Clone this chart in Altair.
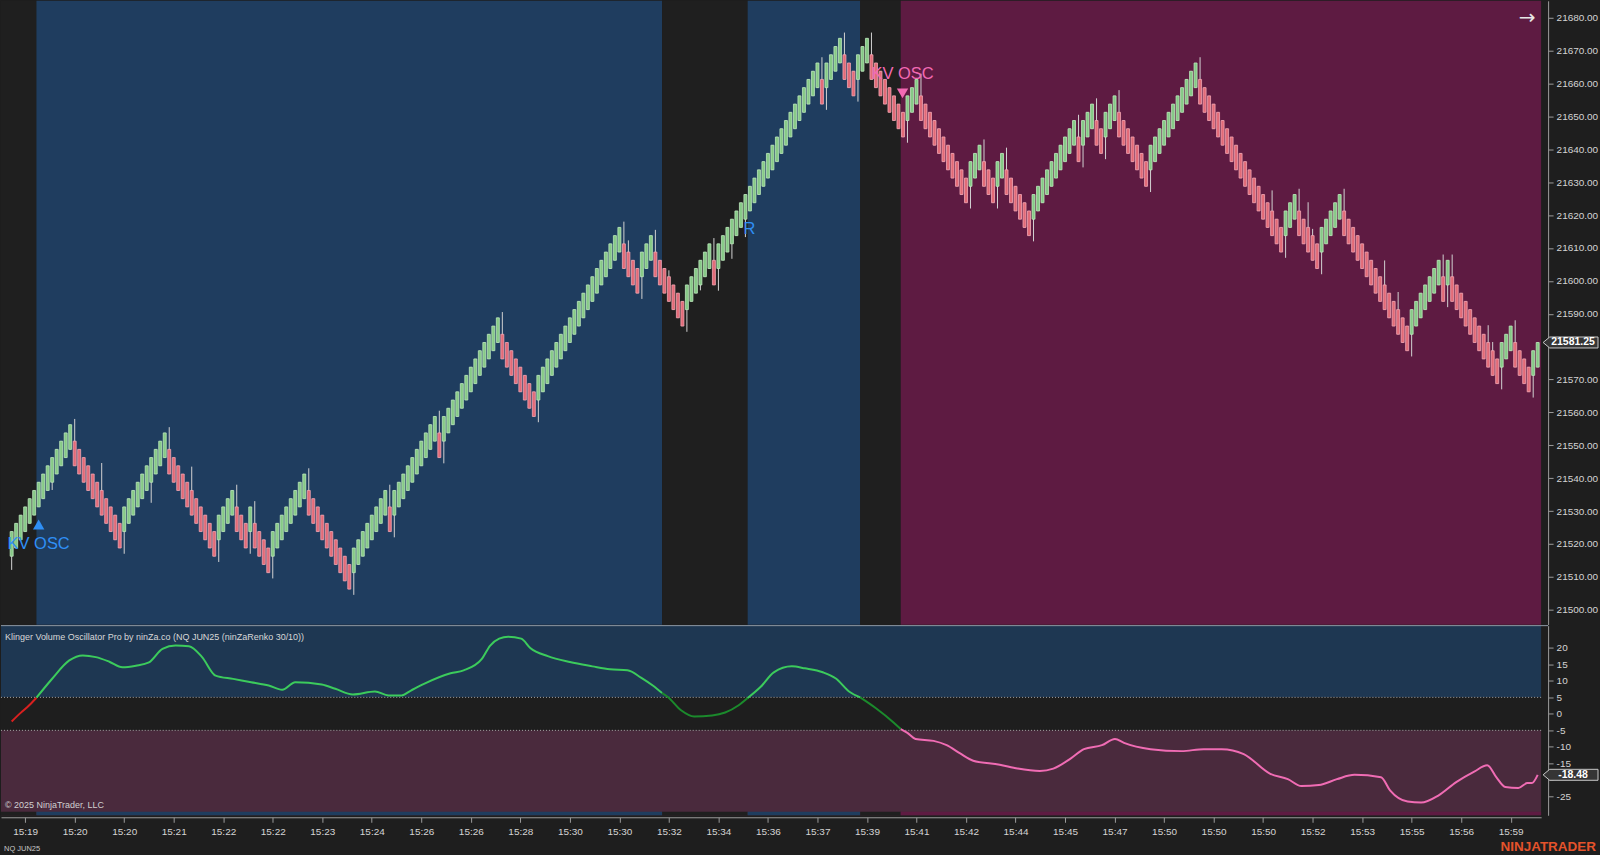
import json
import altair as alt
import pandas as pd

# ---------------- data ----------------
# Renko (ninZaRenko 30/10) settings of NQ: brick 7.5 pts, trend step 2.5 pts, reversal jump 12.5 pts
start_close = 21521.25
renko_brick = 7.5
renko_trend = 2.5
renko_reversal = 12.5
# number of bricks in each swing, first swing up, then alternating
leg_bars = [14, 11, 10, 11, 4, 3, 1, 4, 8, 10, 8, 1, 10, 1, 13, 8, 19, 4, 3, 7, 6, 1, 23, 1,
            4, 3, 3, 8, 3, 11, 3, 3, 2, 6, 10, 1, 3, 2, 3, 7, 11, 19, 3, 5, 5, 15, 7, 1, 1, 11,
            3, 4, 2]
# extra wick extremes seen on individual bricks (bar index, price)
wick_idx = [0, 9, 20, 31, 40, 137, 146, 153, 160, 163, 280, 282, 288, 289, 305, 308, 328, 329]
wick_px = [21512.1, 21536.4, 21544.6, 21532.5, 21543.5, 21612.3, 21603.2, 21597.1, 21606.7,
           21613.3, 21627.5, 21616.0, 21623.9, 21615.8, 21606.2, 21596.6, 21586.5, 21581.4]

# oscillator (bar index, value)
osc_idx = [0, 2, 3.9, 5.5, 8.9, 12.8, 15.8, 18.7, 21.7, 24.6, 27.6, 30.5, 33.5, 36.4, 39.4,
           42.3, 45.3, 49.2, 53.2, 57.1, 60.1, 63.0, 68.9, 71.9, 75.8, 80.7, 83.7, 86.6, 88.6,
           91.6, 97.5, 100.4, 104.4, 106.3, 108.3, 110.3, 113.2, 115.2, 119.1, 124.0, 129.0,
           132.9, 136.8, 139.8, 142.5, 144.5, 145.7, 148.7, 151.6, 155.6, 158.5, 161.5, 163.5,
           166.4, 169.3, 173.3, 176.2, 180.2, 183.1, 186.1, 188.5, 192.0, 195.9, 197.5, 198.9,
           200.8, 204.8, 207.7, 210.7, 213.6, 219.5, 223.5, 228.4, 231.4, 235.3, 238.2, 242.2,
           245.1, 247.1, 253.0, 259.9, 264.8, 268.8, 273.7, 279.6, 283.5, 286.5, 290.4, 294.4,
           298.3, 304.2, 306.2, 310.1, 313.1, 317.0, 320.9, 324.9, 327.8, 329.8, 331.8, 334.7,
           336.7, 337.7, 339.0]
osc_val = [-2.3, 0.3, 2.6, 4.9, 10.5, 16.2, 17.7, 17.2, 15.8, 14.1, 14.6, 15.6, 19.7, 20.7,
           20.5, 17.2, 11.6, 10.6, 9.6, 8.6, 7.3, 9.6, 8.9, 7.6, 5.9, 6.8, 5.6, 5.6, 7.0, 9.1,
           12.3, 13.2, 16.6, 20.7, 22.8, 23.4, 22.8, 20.0, 17.5, 15.7, 14.4, 13.5, 13.2, 11.0,
           8.5, 6.3, 5.2, 1.1, -0.8, -0.5, 0.4, 2.6, 4.8, 8.2, 12.6, 14.4, 13.8, 12.6, 10.7, 6.7,
           5.0, 1.7, -2.6, -4.6, -5.7, -7.6, -8.2, -9.5, -12.0, -14.2, -15.4, -16.6, -17.3,
           -16.6, -13.5, -10.7, -9.5, -7.6, -8.8, -10.7, -11.3, -10.7, -10.7, -12.2, -18.2,
           -19.8, -21.9, -21.6, -19.8, -18.5, -19.2, -23.2, -26.6, -26.9, -24.7, -20.7, -17.5,
           -15.6, -19.2, -22.2, -22.5, -21.0, -21.0, -18.5]
osc_breaks = [5.5, 144.5, 163.5, 188.5, 197.5]
osc_seg_state = ["bear_flat", "bull", "bull_flat", "bull", "bull_flat", "bear"]
osc_upper, osc_lower = 5, -5

# background regions (bar-index edges) and their state
region_edges = [-2.37, 5.5, 144.5, 163.5, 188.5, 197.5, 339.76]
region_state = ["flat", "bull", "flat", "bull", "flat", "bear"]

# time axis (a label every 11 bricks)
tick_pos = [3, 14, 25, 36, 47, 58, 69, 80, 91, 102, 113, 124, 135, 146, 157, 168, 179, 190,
            201, 212, 223, 234, 245, 256, 267, 278, 289, 300, 311, 322, 333]
tick_lab = ["15:19", "15:20", "15:20", "15:21", "15:22", "15:22", "15:23", "15:24", "15:26",
            "15:26", "15:28", "15:30", "15:30", "15:32", "15:34", "15:36", "15:37", "15:39",
            "15:41", "15:42", "15:44", "15:45", "15:47", "15:50", "15:50", "15:50", "15:52",
            "15:53", "15:55", "15:56", "15:59"]
price_ticks = list(range(21500, 21681, 10))
osc_ticks = [20, 15, 10, 5, 0, -5, -10, -15, -20, -25]
last_price = 21581.25
last_osc = -18.48

# signals
signal_idx = [6.0, 197.9]
signal_price = [21525.9, 21657.0]
signal_dir = ["up", "down"]
label_idx = [6.0, 197.9, 163.9]
label_price = [21520.0, 21662.8, 21615.8]
label_text = ["KV OSC", "KV OSC", "R"]
label_dir = ["up", "down", "up"]

# ---------------- build tables ----------------
extra = dict(zip(wick_idx, wick_px))
rows = []
c = start_close
i = 0
for li, n in enumerate(leg_bars):
    d = 1 if li % 2 == 0 else -1
    for k in range(n):
        rev = li > 0 and k == 0
        prev = c
        c = prev + d * (renko_reversal if rev else renko_trend)
        o = c - d * renko_brick
        lo, hi = min(o, c), max(o, c)
        wlo, whi = lo, hi
        if rev:
            if d > 0:
                wlo = prev - 1.75
            else:
                whi = prev + 1.75
        if i in extra:
            p = extra[i]
            if p > hi:
                whi = max(whi, p)
            elif p < lo:
                wlo = min(wlo, p)
        rows.append(dict(idx=i, lo=lo, hi=hi, wlo=wlo, whi=whi,
                         fill="#86c986" if d > 0 else "#e26a77",
                         stroke="#bde8bd" if d > 0 else "#f3a6b2"))
        i += 1
bars_df = pd.DataFrame(rows)

BULL, BEAR, FLAT = "#1f3d5f", "#5e1b42", "#1f1f1f"
state_fill = {"flat": FLAT, "bull": BULL, "bear": BEAR}
reg_df = pd.DataFrame({"x0": region_edges[:-1], "x1": region_edges[1:],
                       "fill": [state_fill[s] for s in region_state]})

line_col = {"bear_flat": "#d9201f", "bull": "#3ccb5c", "bull_flat": "#1b8a2c", "bear": "#f06cb4"}
lrows = []
bounds = [osc_idx[0]] + osc_breaks + [osc_idx[-1]]
for s, st in enumerate(osc_seg_state):
    a, b = bounds[s], bounds[s + 1]
    for xi, v in zip(osc_idx, osc_val):
        if a <= xi <= b:
            lrows.append(dict(idx=xi, v=v, seg=s, col=line_col[st]))
line_df = pd.DataFrame(lrows)

band_df = pd.DataFrame({"b0": [osc_upper, osc_lower, -30.75], "b1": [26.75, osc_upper, osc_lower],
                        "fill": ["#1e3752", "#1e1e1e", "#4a2a3d"]})
thr_df = pd.DataFrame({"v": [osc_upper, osc_lower]})

BLUE, PINK = "#2f8ff5", "#f26ab3"
sig_df = pd.DataFrame({"idx": signal_idx, "p": signal_price,
                       "shape": ["triangle-up" if d == "up" else "triangle-down" for d in signal_dir],
                       "col": [BLUE if d == "up" else PINK for d in signal_dir]})
lab_df = pd.DataFrame({"idx": label_idx, "p": label_price, "t": label_text,
                       "col": [BLUE if d == "up" else PINK for d in label_dir]})

# axis labels hidden under the last-value tags (as in the platform)
price_hidden = [t for t in price_ticks if abs(t - last_price) < 4]
osc_hidden = [t for t in osc_ticks if abs(t - last_osc) < 2.5]

# ---------------- chart ----------------
W, H1, H2 = 1543, 625, 190
FONT = "Liberation Sans"
xs = alt.Scale(domain=[region_edges[0], region_edges[-1]], nice=False, zero=False, padding=0)
ys = alt.Scale(domain=[21495.45, 21685.16], nice=False, zero=False, padding=0)
os_ = alt.Scale(domain=[-30.75, 26.75], nice=False, zero=False, padding=0)

AX = dict(domainColor="#9c9c9c", tickColor="#9c9c9c", labelColor="#d4d4d4", labelFont=FONT,
          labelFontSize=10, tickSize=5, grid=False, title=None)
price_axis = alt.Axis(
    orient="right", values=price_ticks, offset=7, labelPadding=3,
    labelExpr=f"indexof({json.dumps(price_hidden)}, datum.value) >= 0 ? '' : format(datum.value, '.2f')",
    **AX)
osc_axis = alt.Axis(
    orient="right", values=osc_ticks, offset=7, labelPadding=3,
    labelExpr=f"indexof({json.dumps(osc_hidden)}, datum.value) >= 0 ? '' : '' + datum.value",
    **AX)
x_label_expr = f"{json.dumps(tick_lab)}[indexof({json.dumps(tick_pos)}, datum.value)]"
x_axis = alt.Axis(values=tick_pos, labelExpr=x_label_expr, offset=2, labelPadding=4,
                  labelFlush=False, labelOverlap=False, **AX)


def xnone(f):
    return alt.X(f, type="quantitative", scale=xs, axis=None)


def yp(f):
    return alt.Y(f, type="quantitative", scale=ys, axis=price_axis)


def yo(f):
    return alt.Y(f, type="quantitative", scale=os_, axis=osc_axis)


regions = alt.Chart(reg_df).mark_rect().encode(
    x=xnone("x0"), x2="x1:Q", y=alt.value(0), y2=alt.value(H1),
    color=alt.Color("fill:N", scale=None))
wicks = alt.Chart(bars_df).mark_rule(color="#d2d2d2", strokeWidth=1).encode(
    x=xnone("idx"), y=yp("wlo"), y2="whi:Q")
bodies = alt.Chart(bars_df).mark_bar(width=3, strokeWidth=0.8, orient="vertical").encode(
    x=xnone("idx"), y=yp("lo"), y2="hi:Q",
    fill=alt.Color("fill:N", scale=None), stroke=alt.Color("stroke:N", scale=None))
tri = alt.Chart(sig_df).mark_point(filled=True, size=130, opacity=1).encode(
    x=xnone("idx"), y=yp("p"),
    shape=alt.Shape("shape:N", scale=None), color=alt.Color("col:N", scale=None))
labs = alt.Chart(lab_df).mark_text(fontSize=16.5, font=FONT).encode(
    x=xnone("idx"), y=yp("p"), text="t:N", color=alt.Color("col:N", scale=None))
arrow = alt.Chart(pd.DataFrame({"t": ["→"]})).mark_text(
    fontSize=20, color="#e6e6e6", font="DejaVu Sans").encode(
    x=alt.value(1529), y=alt.value(17), text="t:N")

TAG = "M-1,0 L-0.76,-0.2 L1,-0.2 L1,0.2 L-0.76,0.2 Z"
ptag_df = pd.DataFrame({"p": [last_price], "t": [f"{last_price:.2f}"]})
ptag_box = alt.Chart(ptag_df).mark_point(
    shape=TAG, size=3025, filled=True, fill="#353535", stroke="#c8c8c8", strokeWidth=1,
    opacity=1, fillOpacity=1, strokeOpacity=1).encode(x=alt.value(1572.5), y=yp("p"))
ptag_txt = alt.Chart(ptag_df).mark_text(
    fontSize=10.5, fontWeight="bold", color="#ffffff", font=FONT).encode(
    x=alt.value(1575), y=yp("p"), text="t:N")

main = alt.layer(regions, wicks, bodies, tri, labs, arrow, ptag_box, ptag_txt).properties(
    width=W, height=H1)

# oscillator panel
bands = alt.Chart(band_df).mark_rect().encode(
    x=alt.value(0), x2=alt.value(W), y=yo("b0"), y2="b1:Q",
    color=alt.Color("fill:N", scale=None))
strip = alt.Chart(reg_df).mark_rect().encode(
    x=alt.X("x0:Q", scale=xs, axis=x_axis), x2="x1:Q", y=alt.value(186.5), y2=alt.value(H2),
    color=alt.Color("fill:N", scale=None))
thr = alt.Chart(thr_df).mark_rule(color="#a8a8a8", strokeDash=[1, 2], strokeWidth=1).encode(
    y=yo("v"))
oline = alt.Chart(line_df).mark_line(strokeWidth=2, interpolate="monotone").encode(
    x=alt.X("idx:Q", scale=xs, axis=x_axis), y=yo("v"),
    color=alt.Color("col:N", scale=None), detail="seg:N")
sep = alt.Chart(pd.DataFrame({"a": [0]})).mark_rule(color="#8e9aa6", strokeWidth=1).encode(
    x=alt.value(0), x2=alt.value(W + 7), y=alt.value(0))


def ptext(t, x, y, size, color, align="left", weight="normal"):
    return alt.Chart(pd.DataFrame({"t": [t]})).mark_text(
        fontSize=size, color=color, align=align, baseline="middle", font=FONT,
        fontWeight=weight).encode(x=alt.value(x), y=alt.value(y), text="t:N")


title_t = ptext("Klinger Volume Oscillator Pro by ninZa.co (NQ JUN25 (ninZaRenko 30/10))",
                4, 11, 9, "#d8d8d8")
copy_t = ptext("© 2025 NinjaTrader, LLC", 4, 180, 9, "#d0d0d0")
inst_t = ptext("NQ JUN25", 3, 224, 7.5, "#c8c8c8")
brand_t = ptext("NINJATRADER", 1598, 222, 13.5, "#e5532b", align="right", weight="bold")

otag_df = pd.DataFrame({"p": [last_osc], "t": [f"{last_osc:.2f}"]})
otag_box = alt.Chart(otag_df).mark_point(
    shape=TAG, size=3025, filled=True, fill="#353535", stroke="#c8c8c8", strokeWidth=1,
    opacity=1, fillOpacity=1, strokeOpacity=1).encode(x=alt.value(1572.5), y=yo("p"))
otag_txt = alt.Chart(otag_df).mark_text(
    fontSize=10.5, fontWeight="bold", color="#ffffff", font=FONT).encode(
    x=alt.value(1575), y=yo("p"), text="t:N")

osc = alt.layer(bands, strip, thr, oline, sep, title_t, copy_t, inst_t, brand_t,
                otag_box, otag_txt).properties(width=W, height=H2)

chart = alt.vconcat(main, osc, spacing=0).resolve_scale(
    x="independent", y="independent").properties(
    padding=0, background="#1e1e1e").configure_view(stroke=None)

chart.save("out.html", embed_options={"renderer": "svg", "actions": False})
